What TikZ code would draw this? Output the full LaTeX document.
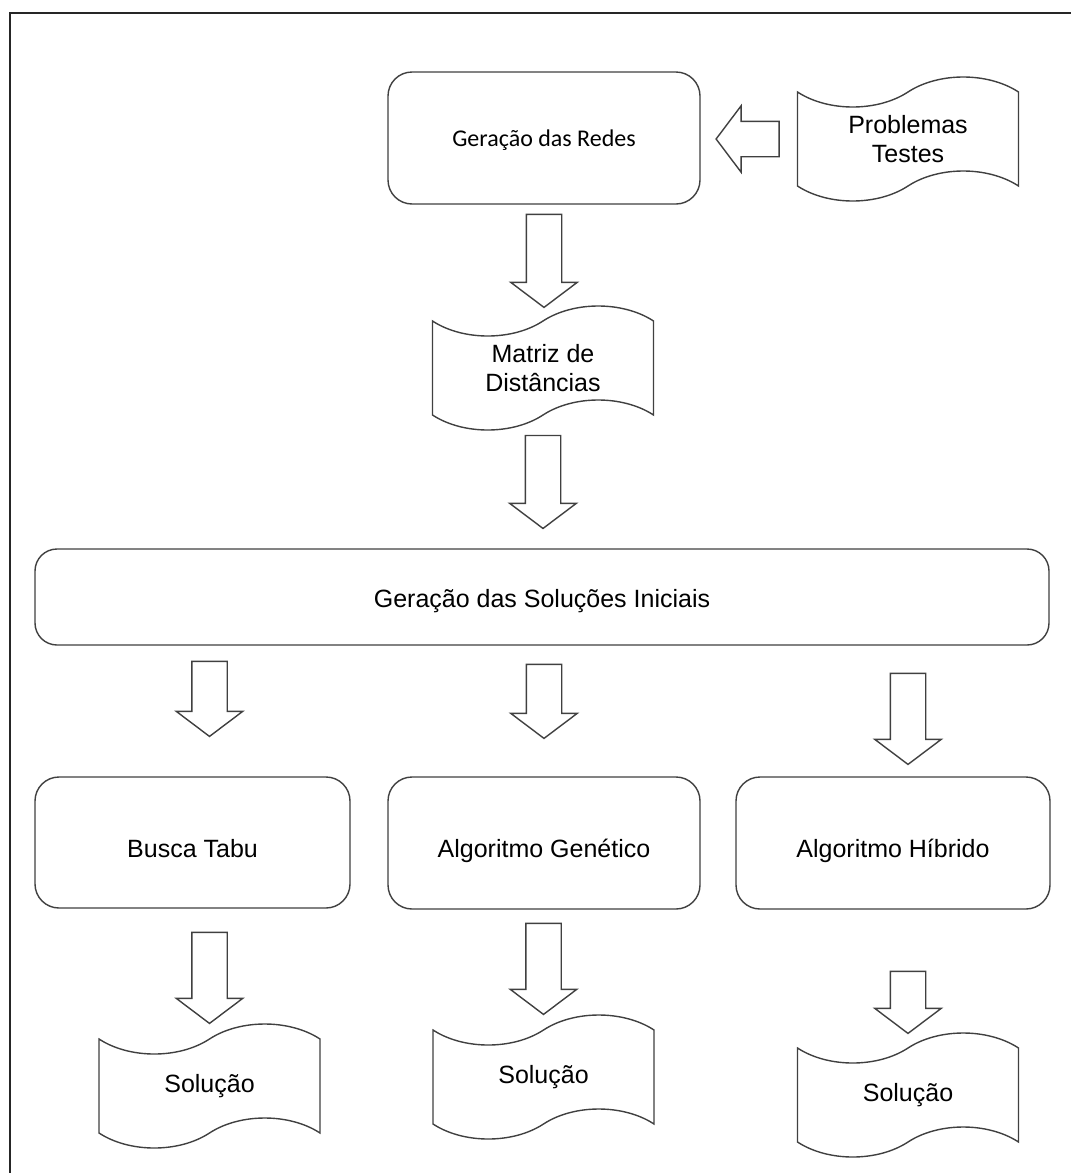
\documentclass[tikz,border=0pt]{standalone}
\usepackage{fontspec}
\setmainfont{Liberation Sans}
\newfontfamily\calibrifont{Carlito}
\usetikzlibrary{positioning, shapes.symbols, shapes.arrows, calc}
\tikzset{
	procbox/.style={
		rectangle,
		draw=black!75,
		line width=1.4pt,
		rounded corners=24pt,
		fill=white,
		minimum width=312pt,
		minimum height=132pt,
		align=center,
		text height=29pt,
		text depth=0pt,
		font=\fontsize{25}{29}\selectfont,
	},
	datatape/.style={
		tape,
		draw=black!75,
		line width=1.4pt,
		tape bend height=30pt,
		fill=white,
		minimum width=221pt,
		minimum height=124pt,
		align=center,
		font=\fontsize{25}{29}\selectfont,
	},
	darrow/.style={
		single arrow,
		draw=black!75,
		line width=1.4pt,
		fill=white,
		shape border rotate=270,
		inner sep=17pt,
		minimum width=66pt,
		single arrow head extend=15.5pt,
		single arrow tip angle=106,
		anchor=tail,
	},
}

\begin{document}
\begin{tikzpicture}[x=1pt, y=-1pt]
	\useasboundingbox (0,0) rectangle (1071,1173);
	% frame
	\draw [line width=2.5pt, black!85] (10,1173) |- (1071,13);

	% Place nodes
	\node [procbox, text height=17pt, font=\calibrifont\fontsize{24}{28}\selectfont] (redes) at (544,138) {Geração das Redes};
	\node [datatape] (testes) at (908,139) {Problemas\\Testes};
	\node [datatape] (matriz) at (543,368) {Matriz de\\Distâncias};
	\node [procbox, minimum width=1014pt, minimum height=96pt, rounded corners=22pt, text height=21pt] (inicial) at (542,597) {Geração das Soluções Iniciais};

	\node [procbox, minimum width=315pt, minimum height=131pt] (busca) at (192.5,842.5) {Busca Tabu};
	\node [procbox] (genetico) at (544,843) {Algoritmo Genético};
	\node [procbox, minimum width=314pt] (hibrido) at (893,843) {Algoritmo Híbrido};

	\node [datatape] (sol1) at (209.5,1086) {Solução};
	\node [datatape] (sol2) at (543.5,1077) {Solução};
	\node [datatape] (sol3) at (908,1095) {Solução};

	% block arrows
	\node [darrow, shape border rotate=180, minimum height=63pt, left=17pt of testes, anchor=tail] (a0) {};
	\node [darrow, minimum height=93pt, below=9pt of redes, anchor=tail] (a1) {};
	\node [darrow, minimum height=93pt, below=19pt of matriz, anchor=tail] (a2) {};

	\node [darrow, minimum height=75pt] (a3l) at ([yshift=-15pt]inicial.south -| sol1) {};
	\node [darrow, minimum height=74pt] (a3m) at ([yshift=-18pt]inicial.south -| genetico) {};
	\node [darrow, minimum height=91pt] (a3r) at ([yshift=-27pt]inicial.south -| sol3) {};

	\node [darrow, minimum height=91pt] (a4l) at ([yshift=-23pt]busca.south -| sol1) {};
	\node [darrow, minimum height=91pt] (a4m) at ([yshift=-13pt]genetico.south -| sol2) {};
	\node [darrow, minimum height=62pt] (a4r) at ([yshift=-61pt]hibrido.south -| sol3) {};
\end{tikzpicture}
\end{document}
